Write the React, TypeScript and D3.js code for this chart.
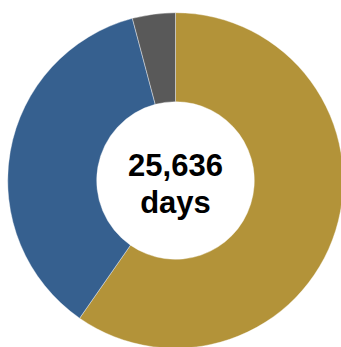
import React from "react";
import * as d3 from "d3";

const categories = ["A", "B", "C"];
const values = [15300, 9275, 1061];
const colors = ["#B39339", "#36608F", "#595959"];
const centerLines = ["25,636", "days"];

export default function App() {
  const W = 341, H = 347;
  const cx = 175.5, cy = 180.5;
  const outerR = 167.8, innerR = 78.8;
  const pie = d3.pie<number>().sort(null).value((d) => d);
  const arcs = pie(values);
  const arcGen = d3.arc<d3.PieArcDatum<number>>().innerRadius(innerR).outerRadius(outerR);
  return (
    <svg width={W} height={H} style={{ position: "absolute", left: 0, top: 0 }}>
      <g transform={`translate(${cx},${cy})`}>
        {arcs.map((a, i) => (
          <path key={categories[i]} d={arcGen(a) || ""} fill={colors[i]} stroke="#fff" strokeWidth={0.4} />
        ))}
        {centerLines.map((t, i) => (
          <text
            key={t}
            x={0}
            y={-4.5 + i * 37}
            textAnchor="middle"
            fontFamily="'Liberation Sans', Arial, sans-serif"
            fontWeight="bold"
            fontSize={31}
            fill="#000"
          >
            {t}
          </text>
        ))}
      </g>
    </svg>
  );
}
